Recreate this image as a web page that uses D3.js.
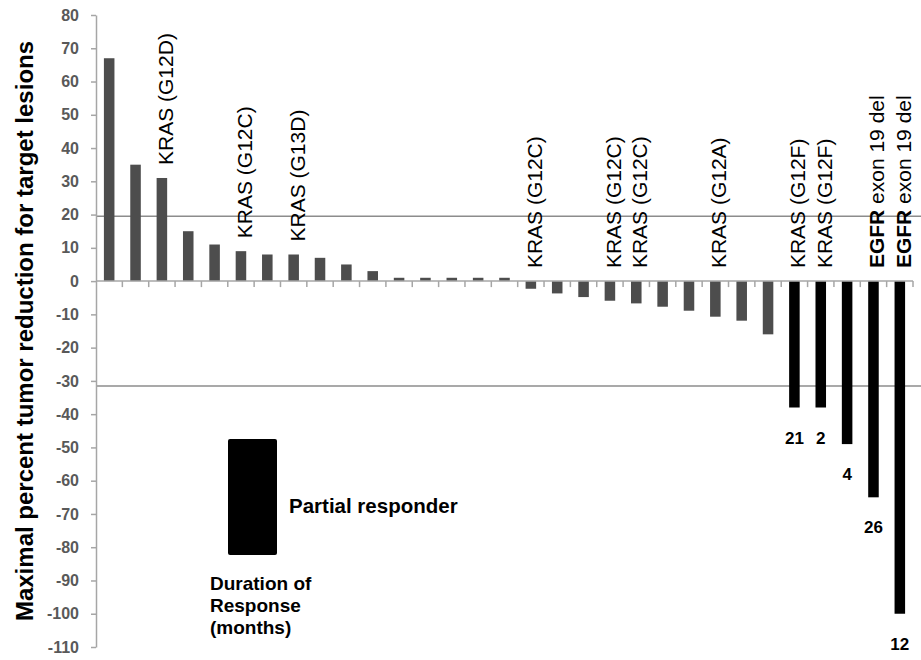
<!DOCTYPE html>
<html>
<head>
<meta charset="utf-8">
<script src="https://cdn.jsdelivr.net/npm/d3@7"></script>
<style>
	body { margin: 0; background: #fff; }
	text { font-family: "Liberation Sans", Arial, sans-serif; }
</style>
</head>
<body>
<script>
// Waterfall chart - best tumour response per patient

// values, one per patient, sorted high to low
var patients = d3.range(1, 32);
var reduction = [67, 35, 31, 15, 11, 9, 8, 8, 7, 5, 3, 1, 1, 1, 1, 1,
	-2.3, -3.7, -4.8, -5.9, -6.7, -7.7, -8.9, -10.7, -11.9, -16,
	-38, -38, -49, -65, -100];
// partial responders are drawn black
var partialResponder = [0, 0, 0, 0, 0, 0, 0, 0, 0, 0, 0, 0, 0, 0, 0, 0,
	0, 0, 0, 0, 0, 0, 0, 0, 0, 0, 1, 1, 1, 1, 1];
// duration of response in months (responders only)
var duration = [null, null, null, null, null, null, null, null, null, null, null, null, null, null, null, null,
	null, null, null, null, null, null, null, null, null, null, 21, 2, 4, 26, 12];

// mutation labels: patient number, gene, variant
var mutPatient = [3, 6, 8, 17, 20, 21, 24, 27, 28, 30, 31];
var mutGene = ["KRAS", "KRAS", "KRAS", "KRAS", "KRAS", "KRAS", "KRAS", "KRAS", "KRAS", "EGFR", "EGFR"];
var mutVariant = ["(G12D)", "(G12C)", "(G13D)", "(G12C)", "(G12C)", "(G12C)", "(G12A)", "(G12F)", "(G12F)", "exon 19 del", "exon 19 del"];

// horizontal reference lines
var refLines = [19.5, -31.5];
var yTicks = d3.range(-110, 81, 10);

window.onload = function(){

	var w = 921, h = 660;

	var svg = d3.select("body")
		.append("svg")
		.attr("width", w)
		.attr("height", h);

	// scales
	var x = d3.scaleBand()
		.domain(patients)
		.range([96, 913])
		.paddingInner(0.6)
		.paddingOuter(0.3);

	var y = d3.scaleLinear()
		.domain([-110, 80])
		.range([647, 15]);

	// reference lines first, bars sit on top
	svg.selectAll(".refLine")
		.data(refLines)
		.enter()
		.append("line")
		.attr("class", "refLine")
		.attr("x1", 96)
		.attr("x2", w)
		.attr("y1", function(d){ return y(d); })
		.attr("y2", function(d){ return y(d); })
		.style("stroke", "#8c8c8c")
		.style("stroke-width", 1.5);

	// y axis (plain hyphen for negatives, like the original)
	var yAxis = d3.axisLeft(y)
		.tickValues(yTicks)
		.tickFormat(function(d){ return String(d); })
		.tickSize(5)
		.tickPadding(12)
		.tickSizeOuter(0);

	var gy = svg.append("g")
		.attr("class", "axis")
		.attr("transform", "translate(96,0)")
		.call(yAxis);
	gy.select(".domain").style("stroke", "#a6a6a6").style("stroke-width", 1.5);
	gy.selectAll(".tick line").style("stroke", "#a6a6a6").style("stroke-width", 1.5);
	gy.selectAll(".tick text")
		.style("font-size", "16px")
		.style("font-weight", "bold")
		.style("fill", "#595959");

	// bars
	svg.selectAll(".bar")
		.data(reduction)
		.enter()
		.append("rect")
		.attr("class", "bar")
		.attr("x", function(d, i){ return x(patients[i]); })
		.attr("width", x.bandwidth())
		.attr("y", function(d){ return y(Math.max(d, 0)); })
		.attr("height", function(d){ return Math.abs(y(d) - y(0)); })
		.style("fill", function(d, i){
			return partialResponder[i] ? "#000" : "#4d4d4d";
		});

	// x axis line at zero with ticks between bars
	var step = x.step();
	svg.append("line")
		.attr("x1", 96)
		.attr("x2", 913)
		.attr("y1", y(0))
		.attr("y2", y(0))
		.style("stroke", "#a6a6a6")
		.style("stroke-width", 1.5);

	svg.selectAll(".xtick")
		.data(patients)
		.enter()
		.append("line")
		.attr("class", "xtick")
		.attr("x1", function(d){ return x(d) + x.bandwidth() + (step - x.bandwidth()) / 2; })
		.attr("x2", function(d){ return x(d) + x.bandwidth() + (step - x.bandwidth()) / 2; })
		.attr("y1", y(0))
		.attr("y2", y(0) + 6)
		.style("stroke", "#a6a6a6")
		.style("stroke-width", 1.5);

	// mutation labels, vertical
	var labels = svg.selectAll(".mutLabel")
		.data(mutPatient)
		.enter()
		.append("text")
		.attr("class", "mutLabel")
		.attr("transform", function(d){
			var i = d - 1;
			var cx = x(d) + x.bandwidth() / 2 + 11;
			var cy = y(Math.max(reduction[i], 0)) - 13;
			return "translate(" + cx + "," + cy + ") rotate(-90)";
		})
		.style("font-size", "21px")
		.style("fill", "#000");

	labels.append("tspan")
		.style("font-weight", function(d, i){ return mutGene[i] === "EGFR" ? "bold" : "normal"; })
		.text(function(d, i){ return mutGene[i]; });

	labels.append("tspan")
		.text(function(d, i){ return " " + mutVariant[i]; });

	// duration of response under responder bars
	var responders = d3.range(reduction.length).filter(function(i){ return duration[i] !== null; });

	svg.selectAll(".duration")
		.data(responders)
		.enter()
		.append("text")
		.attr("class", "duration")
		.attr("text-anchor", "middle")
		.attr("x", function(i){ return x(patients[i]) + x.bandwidth() / 2; })
		.attr("y", function(i){ return y(reduction[i]) + 36; })
		.style("font-size", "17px")
		.style("font-weight", "bold")
		.text(function(i){ return duration[i]; });

	// y axis title
	svg.append("text")
		.attr("transform", "translate(33," + 331 + ") rotate(-90)")
		.attr("text-anchor", "middle")
		.style("font-size", "24px")
		.style("font-weight", "bold")
		.text("Maximal percent tumor reduction for target lesions");

	// legend
	svg.append("rect")
		.attr("x", 228)
		.attr("y", 439)
		.attr("width", 49)
		.attr("height", 116)
		.attr("rx", 2)
		.style("fill", "#000");

	svg.append("text")
		.attr("x", 289)
		.attr("y", 513)
		.style("font-size", "20.5px")
		.style("font-weight", "bold")
		.text("Partial responder");

	var legendNote = svg.append("text")
		.attr("x", 210)
		.attr("y", 590)
		.style("font-size", "19px")
		.style("font-weight", "bold");

	legendNote.selectAll("tspan")
		.data(["Duration of", "Response", "(months)"])
		.enter()
		.append("tspan")
		.attr("x", 210)
		.attr("dy", function(d, i){ return i === 0 ? 0 : 22; })
		.text(function(d){ return d; });
};
</script>
</body>
</html>
